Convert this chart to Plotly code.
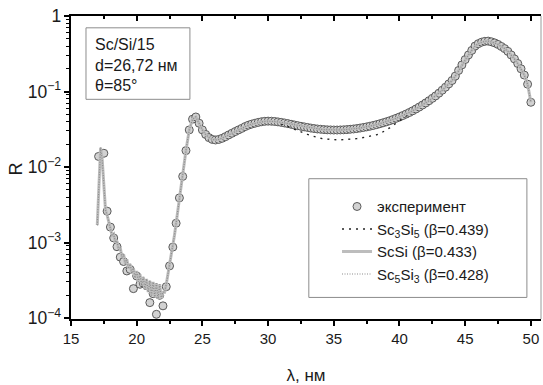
import plotly.graph_objects as go

# ---------------- data ----------------
# experiment: first two points, then 0.25 nm grid from 17.75 to 50.0
lam_exp_start = [17.1, 17.5]
R_exp_start = [0.0138, 0.0152]
R_exp_low = [  # 17.75 .. 22.75, step 0.25
    2.6e-3, 1.6e-3, 1.15e-3, 8.8e-4, 6.4e-4, 5.6e-4, 4.2e-4, 4.4e-4,
    2.45e-4, 3.6e-4, 2.8e-4, 2.9e-4, 2.7e-4, 1.6e-4, 2.1e-4, 1.12e-4,
    2.0e-4, 1.45e-4, 2.6e-4, 4.9e-4, 8.7e-4]

# main smooth part 23.0 .. 50.0 step 0.25 (experiment and ScSi / Sc5Si3 coincide)
R_main = [
    1.8e-3, 3.9e-3, 7.5e-3, 0.0165,        # 23
    0.031, 0.043, 0.046, 0.038,            # 24
    0.031, 0.027, 0.0245, 0.0232,          # 25
    0.0228, 0.0232, 0.024, 0.0252,         # 26
    0.0266, 0.028, 0.0295, 0.031,          # 27
    0.0325, 0.0343, 0.0358, 0.037,         # 28
    0.038, 0.039, 0.0398, 0.0403,          # 29
    0.0405, 0.0404, 0.0401, 0.0396,        # 30
    0.039, 0.0383, 0.0376, 0.0368,         # 31
    0.036, 0.0353, 0.0346, 0.034,          # 32
    0.0334, 0.0328, 0.0323, 0.0319,        # 33
    0.0316, 0.0313, 0.0311, 0.031,         # 34
    0.0309, 0.0309, 0.031, 0.0311,         # 35
    0.0313, 0.0316, 0.0319, 0.0323,        # 36
    0.0328, 0.0334, 0.034, 0.0347,         # 37
    0.0355, 0.0364, 0.0374, 0.0385,        # 38
    0.0397, 0.041, 0.0425, 0.0442,         # 39
    0.046, 0.048, 0.0502, 0.0527,          # 40
    0.0555, 0.0587, 0.0622, 0.0662,        # 41
    0.0706, 0.0756, 0.0812, 0.0875,        # 42
    0.095, 0.104, 0.114, 0.126,            # 43
    0.14, 0.16, 0.19, 0.225,               # 44
    0.265, 0.305, 0.35, 0.40,              # 45
    0.43, 0.45, 0.462, 0.465,              # 46
    0.455, 0.44, 0.42, 0.395,              # 47
    0.37, 0.34, 0.305, 0.27,               # 48
    0.235, 0.2, 0.165, 0.125,              # 49
    0.072]                                 # 50

# theory, fine part 17.0 .. 22.875 step 0.125
R_th_fine = [
    1.7e-3, 7e-3, 0.018, 0.0125, 5e-3, 2.7e-3, 2.3e-3, 1.9e-3,          # 17
    1.6e-3, 1.25e-3, 1.3e-3, 1.0e-3, 1.05e-3, 8.0e-4, 8.5e-4, 6.4e-4,   # 18
    7.0e-4, 5.3e-4, 6.0e-4, 4.5e-4, 5.2e-4, 3.9e-4, 4.6e-4, 3.4e-4,     # 19
    4.2e-4, 3.0e-4, 3.8e-4, 2.7e-4, 3.5e-4, 2.4e-4, 3.3e-4, 2.2e-4,     # 20
    3.1e-4, 2.0e-4, 3.0e-4, 1.9e-4, 2.9e-4, 1.8e-4, 2.8e-4, 1.8e-4,     # 21
    2.2e-4, 2.2e-4, 2.8e-4, 3.7e-4, 5.0e-4, 6.5e-4, 8.8e-4, 1.25e-3]    # 22

# Sc3Si5 main part 23.0 .. 50.0 (differs between ~30.5 and 41)
R_sc3si5_main = [
    1.8e-3, 3.9e-3, 7.5e-3, 0.0165,        # 23
    0.031, 0.043, 0.046, 0.038,            # 24
    0.031, 0.027, 0.0245, 0.0232,          # 25
    0.0228, 0.0232, 0.024, 0.0252,         # 26
    0.0266, 0.028, 0.0295, 0.031,          # 27
    0.0325, 0.0343, 0.0358, 0.037,         # 28
    0.038, 0.039, 0.0398, 0.0403,          # 29
    0.0405, 0.0403, 0.0398, 0.0388,        # 30
    0.0375, 0.036, 0.0345, 0.033,          # 31
    0.0316, 0.0303, 0.0291, 0.028,         # 32
    0.027, 0.0261, 0.0253, 0.0246,         # 33
    0.024, 0.0236, 0.0233, 0.0231,         # 34
    0.023, 0.0229, 0.0229, 0.023,          # 35
    0.0231, 0.0233, 0.0235, 0.0238,        # 36
    0.0241, 0.0245, 0.0249, 0.0254,        # 37
    0.026, 0.0267, 0.0276, 0.029,          # 38
    0.031, 0.033, 0.0355, 0.038,           # 39
    0.041, 0.0443, 0.0478, 0.0515,         # 40
    0.0552, 0.0587, 0.0622, 0.0662,        # 41
    0.0706, 0.0756, 0.0812, 0.0875,        # 42
    0.095, 0.104, 0.114, 0.126,            # 43
    0.14, 0.16, 0.19, 0.225,               # 44
    0.265, 0.305, 0.35, 0.40,              # 45
    0.43, 0.45, 0.462, 0.465,              # 46
    0.455, 0.44, 0.42, 0.395,              # 47
    0.37, 0.34, 0.305, 0.27,               # 48
    0.235, 0.2, 0.165, 0.125,              # 49
    0.072]                                 # 50

lam_exp = (lam_exp_start
           + [17.75 + 0.25 * i for i in range(len(R_exp_low))]
           + [23.0 + 0.25 * i for i in range(len(R_main))])
R_exp = R_exp_start + R_exp_low + R_main

lam_th = [17.0 + 0.125 * i for i in range(len(R_th_fine))] + [23.0 + 0.25 * i for i in range(len(R_main))]
R_scsi = R_th_fine + R_main
R_sc5si3 = R_th_fine + R_main
R_sc3si5 = R_th_fine + R_sc3si5_main

labels = ["эксперимент",
          "Sc<sub>3</sub>Si<sub>5</sub> (β=0.439)",
          "ScSi (β=0.433)",
          "Sc<sub>5</sub>Si<sub>3</sub> (β=0.428)"]

FONT = "Liberation Sans, Arial, sans-serif"
TXT = "#1a1a1a"

fig = go.Figure()
fig.add_trace(go.Scatter(
    x=lam_exp, y=R_exp, mode="markers", name=labels[0], legendgroup="a",
    marker=dict(symbol="circle", size=8, color="#d2d2d2",
                line=dict(color="#5a5a5a", width=1))))
fig.add_trace(go.Scatter(
    x=lam_th, y=R_sc3si5, mode="lines", name=labels[1], legendgroup="b",
    line=dict(color="#222222", width=1.4, dash="2px,5px")))
fig.add_trace(go.Scatter(
    x=lam_th, y=R_scsi, mode="lines", name=labels[2], legendgroup="c",
    line=dict(color="#bdbdbd", width=3)))
fig.add_trace(go.Scatter(
    x=lam_th, y=R_sc5si3, mode="lines", name=labels[3], legendgroup="d",
    line=dict(color="#8a8a8a", width=1.2, dash="1px,1.5px")))

xr = [15, 50.77]
yr = [-4.013, 0]

fig.update_layout(
    width=543, height=385,
    margin=dict(l=71, r=2, t=16, b=60),
    paper_bgcolor="white", plot_bgcolor="white",
    font=dict(family=FONT, size=15, color=TXT),
    showlegend=True,
    legend=dict(x=0.566, y=0.425, xanchor="left", yanchor="top",
                bgcolor="rgba(0,0,0,0)", borderwidth=0,
                font=dict(family=FONT, size=15, color=TXT),
                tracegroupgap=0),
    xaxis=dict(range=xr, type="linear", showgrid=False, zeroline=False,
               showline=True, linecolor="black", linewidth=2,
               ticks="outside", ticklen=5, tickwidth=1.5, tickcolor="black",
               dtick=5, tick0=15,
               minor=dict(ticks="outside", ticklen=3, tickwidth=1.5,
                          tickcolor="black", dtick=2.5, showgrid=False),
               tickfont=dict(size=15, color=TXT),
               title=dict(text="λ, нм", font=dict(size=17, color=TXT), standoff=24)),
    xaxis2=dict(range=xr, overlaying="x", side="top", anchor="y",
                showgrid=False, zeroline=False, showline=True,
                linecolor="black", linewidth=2, ticks="inside", ticklen=5,
                tickwidth=1.5, tickcolor="black", dtick=5, tick0=15,
                minor=dict(ticks="inside", ticklen=3, tickwidth=1.5,
                           tickcolor="black", dtick=2.5, showgrid=False),
                showticklabels=False),
    yaxis=dict(type="log", range=yr, showgrid=False, zeroline=False,
               showline=True, linecolor="black", linewidth=2,
               ticks="outside", ticklen=5, tickwidth=1.5, tickcolor="black",
               dtick=1, exponentformat="power",
               minor=dict(ticks="outside", ticklen=3, tickwidth=1,
                          tickcolor="black", dtick="D1", showgrid=False),
               tickfont=dict(size=14, color=TXT)),
)

# y-axis title as rotated annotation
fig.add_annotation(text="R", xref="paper", yref="paper", x=-0.118, y=0.495,
                   xanchor="center", yanchor="middle", textangle=-90,
                   showarrow=False, font=dict(family=FONT, size=18, color=TXT))

# invisible trace to activate top axis
fig.add_trace(go.Scatter(x=[xr[0]], y=[1e-3], xaxis="x2", mode="markers",
                         marker=dict(opacity=0), showlegend=False, hoverinfo="skip"))

# right frame line (thin grey)
fig.add_shape(type="line", xref="paper", yref="paper", x0=1, x1=1, y0=0, y1=1,
              line=dict(color="#9a9a9a", width=1))
# legend frame
fig.add_shape(type="rect", xref="paper", yref="paper",
              x0=0.506, x1=0.970, y0=0.0712, y1=0.463,
              line=dict(color="#8c8c8c", width=1), fillcolor="rgba(0,0,0,0)")
# info box
fig.add_shape(type="rect", xref="paper", yref="paper",
              x0=0.0319, x1=0.253, y0=0.725, y1=0.961,
              line=dict(color="#8c8c8c", width=1), fillcolor="white")
for txt, yy in [("Sc/Si/15", 0.906), ("d=26,72 нм", 0.838), ("θ=85°", 0.770)]:
    fig.add_annotation(text=txt, xref="paper", yref="paper", x=0.046, y=yy,
                       xanchor="left", yanchor="middle", showarrow=False,
                       font=dict(family=FONT, size=16, color=TXT))

fig.write_html("out.html")
